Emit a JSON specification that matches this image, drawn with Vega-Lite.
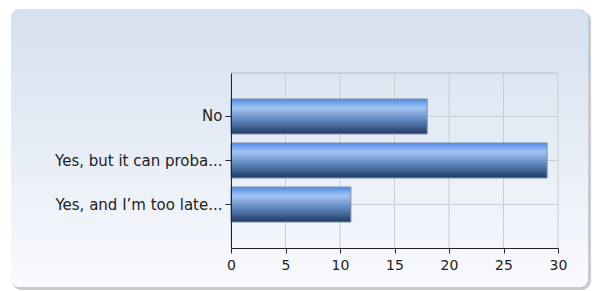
{
  "$schema": "https://vega.github.io/schema/vega-lite/v6.json",
  "autosize": {"type": "none"},
  "width": 327,
  "height": 175,
  "padding": {"left": 231, "top": 73, "right": 36, "bottom": 43},
  "background": "white",
  "config": {
    "view": {"stroke": null},
    "axis": {
      "labelFont": "DejaVu Sans",
      "labelFontSize": 14,
      "labelColor": "#222222",
      "domainColor": "#222222",
      "tickColor": "#222222",
      "grid": false
    }
  },
  "data": {
    "values": [
      {"answer": "No", "count": 18},
      {"answer": "Yes, but it can proba...", "count": 29},
      {"answer": "Yes, and I’m too late...", "count": 11}
    ]
  },
  "layer": [
    {
      "mark": {"type": "rect", "cornerRadius": 10, "fill": "#c4c8ce", "opacity": 0.6},
      "encoding": {
        "x": {"datum": -20.09, "type": "quantitative", "scale": {"domain": [0, 30], "nice": false, "zero": false}},
        "x2": {"datum": 33.03},
        "y": {"datum": -0.24, "type": "quantitative", "scale": {"domain": [0, 1], "nice": false, "zero": false}, "axis": null},
        "y2": {"datum": 1.354}
      }
    },
    {
      "mark": {
        "type": "rect",
        "cornerRadius": 9,
        "fill": {
          "gradient": "linear", "x1": 0, "y1": 0, "x2": 0, "y2": 1,
          "stops": [
            {"offset": 0, "color": "#d5e0ef"},
            {"offset": 1, "color": "#f9fafd"}
          ]
        }
      },
      "encoding": {
        "x": {"datum": -20.18, "type": "quantitative", "scale": {"domain": [0, 30], "nice": false, "zero": false}},
        "x2": {"datum": 32.75},
        "y": {"datum": -0.2229, "type": "quantitative", "scale": {"domain": [0, 1], "nice": false, "zero": false}, "axis": null},
        "y2": {"datum": 1.3657}
      }
    },
    {
      "data": {"values": [{"t": 0}, {"t": 5}, {"t": 10}, {"t": 15}, {"t": 20}, {"t": 25}, {"t": 30}]},
      "mark": {"type": "rule", "stroke": "#c8cdd6", "strokeWidth": 1},
      "encoding": {
        "x": {"field": "t", "type": "quantitative", "scale": {"domain": [0, 30], "nice": false, "zero": false}},
        "y": {"datum": 0, "type": "quantitative", "scale": {"domain": [0, 1], "nice": false, "zero": false}, "axis": null},
        "y2": {"datum": 1}
      }
    },
    {
      "mark": {"type": "rule", "stroke": "#c8cdd6", "strokeWidth": 1},
      "encoding": {
        "x": {"datum": 0, "type": "quantitative", "scale": {"domain": [0, 30], "nice": false, "zero": false}},
        "x2": {"datum": 30},
        "y": {"field": "answer", "type": "nominal", "sort": null, "bandPosition": 0.5,
              "scale": {"paddingInner": 0.205, "paddingOuter": 0.59}, "axis": null}
      }
    },
    {
      "mark": {"type": "rule", "stroke": "#c8cdd6", "strokeWidth": 1},
      "encoding": {
        "x": {"datum": 0, "type": "quantitative", "scale": {"domain": [0, 30], "nice": false, "zero": false}},
        "x2": {"datum": 30},
        "y": {"datum": 1, "type": "quantitative", "scale": {"domain": [0, 1], "nice": false, "zero": false}, "axis": null}
      }
    },
    {
      "mark": {
        "type": "bar",
        "stroke": "#7d8fae",
        "strokeWidth": 1,
        "fill": {
          "gradient": "linear", "x1": 0, "y1": 0, "x2": 0, "y2": 1,
          "stops": [
            {"offset": 0, "color": "#4f8ae0"},
            {"offset": 0.25, "color": "#a2c4f3"},
            {"offset": 0.6, "color": "#5f86bd"},
            {"offset": 1, "color": "#1f3a63"}
          ]
        }
      },
      "encoding": {
        "y": {
          "field": "answer", "type": "nominal", "sort": null, "title": null,
          "scale": {"paddingInner": 0.205, "paddingOuter": 0.59},
          "axis": {"tickSize": 6, "labelPadding": 3, "zindex": 2, "labelLimit": 300, "labelFontSize": 15}
        },
        "x": {
          "field": "count", "type": "quantitative", "title": null,
          "scale": {"domain": [0, 30], "nice": false, "zero": false},
          "axis": {"values": [0, 5, 10, 15, 20, 25, 30], "tickSize": 5, "labelPadding": 5, "labelFlush": false, "zindex": 2}
        }
      }
    }
  ],
  "resolve": {"scale": {"y": "independent"}, "axis": {"y": "independent"}}
}
